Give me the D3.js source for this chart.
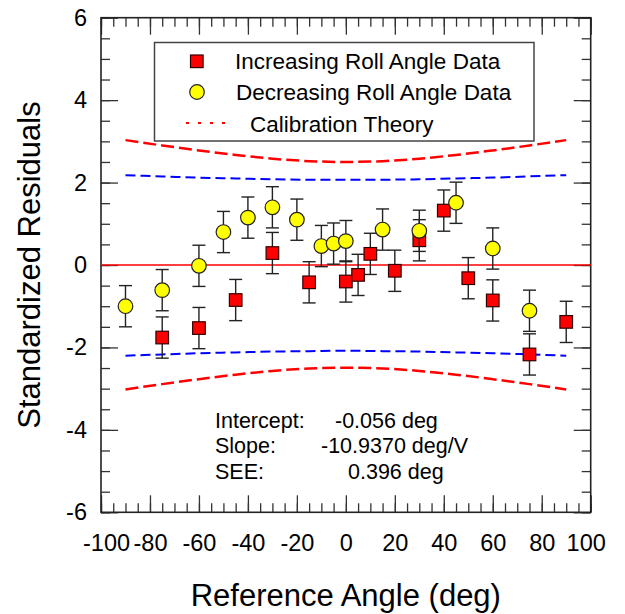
<!DOCTYPE html>
<html>
<head>
<meta charset="utf-8">
<script src="https://cdn.jsdelivr.net/npm/d3@7"></script>
<style>
  body { margin: 0; background: #fff; }
  text { font-family: "Liberation Sans", Arial, sans-serif; fill: #000; }
</style>
</head>
<body>
<div id="chart"></div>
<script>
// Data
var incAngle = [-75, -60, -45, -30, -15, 0, 5, 10, 20, 30, 40, 50, 60, 75, 90];
var incResid = [-1.76, -1.53, -0.85, 0.29, -0.42, -0.40, -0.24, 0.27, -0.14, 0.60, 1.32, -0.32, -0.86, -2.17, -1.38];
var incErr   = [0.5, 0.5, 0.5, 0.5, 0.5, 0.5, 0.5, 0.5, 0.5, 0.5, 0.5, 0.5, 0.5, 0.5, 0.5];

var decAngle = [-90, -75, -60, -50, -40, -30, -20, -10, -5, 0, 15, 30, 45, 60, 75];
var decResid = [-1.00, -0.61, -0.02, 0.80, 1.15, 1.40, 1.10, 0.46, 0.52, 0.58, 0.86, 0.83, 1.51, 0.40, -1.11];
var decErr   = [0.5, 0.5, 0.5, 0.5, 0.5, 0.5, 0.5, 0.5, 0.5, 0.5, 0.5, 0.5, 0.5, 0.5, 0.5];

// calibration theory bands
var bandAngle = [-90, -75, -60, -45, -30, -15, 0, 15, 30, 45, 60, 75, 90];
var redUpper  = [3.03, 2.90, 2.78, 2.67, 2.58, 2.52, 2.50, 2.52, 2.58, 2.67, 2.78, 2.90, 3.03];
var redLower  = [-3.02, -2.89, -2.77, -2.66, -2.57, -2.51, -2.49, -2.51, -2.57, -2.66, -2.77, -2.89, -3.02];
var blueUpper = [2.18, 2.15, 2.12, 2.10, 2.08, 2.07, 2.07, 2.07, 2.08, 2.10, 2.12, 2.15, 2.18];
var blueLower = [-2.20, -2.17, -2.14, -2.12, -2.10, -2.09, -2.08, -2.09, -2.10, -2.12, -2.14, -2.17, -2.20];

var xTicks = [-100, -80, -60, -40, -20, 0, 20, 40, 60, 80, 100];
var yTicks = [-6, -4, -2, 0, 2, 4, 6];

var statLabels = ["Intercept:", "Slope:", "SEE:"];
var statValues = ["-0.056 deg", "-10.9370 deg/V", "0.396 deg"];

// dimensions
var margin = {top: 17.7, right: 34.3, bottom: 101.7, left: 101},
    width = 625 - margin.left - margin.right,
    height = 614 - margin.top - margin.bottom;

var svg = d3.select("#chart").append("svg")
    .attr("width", 625)
    .attr("height", 614)
  .append("g")
    .attr("transform", "translate(" + margin.left + "," + margin.top + ")");

var x = d3.scaleLinear().domain([-100, 100]).range([0, width]);
var y = d3.scaleLinear().domain([-6, 6]).range([height, 0]);

// plain hyphen for negatives, like the original
var fmt = function(d) { return String(d); };

var minorX = d3.range(-100, 101, 5);
var minorY = d3.range(-6, 6.01, 0.5);

// minor ticks all around
svg.append("g").attr("transform", "translate(0," + height + ")")
    .call(d3.axisBottom(x).tickValues(minorX).tickSize(-9).tickFormat(""));
svg.append("g")
    .call(d3.axisTop(x).tickValues(minorX).tickSize(-9).tickFormat(""));
svg.append("g")
    .call(d3.axisLeft(y).tickValues(minorY).tickSize(-9).tickFormat(""));
svg.append("g").attr("transform", "translate(" + width + ",0)")
    .call(d3.axisRight(y).tickValues(minorY).tickSize(-9).tickFormat(""));

// major ticks + labels
var xAxis = svg.append("g").attr("class", "x axis")
    .attr("transform", "translate(0," + height + ")")
    .call(d3.axisBottom(x).tickValues(xTicks).tickSize(-17).tickPadding(22).tickFormat(fmt));
svg.append("g")
    .call(d3.axisTop(x).tickValues(xTicks).tickSize(-17).tickFormat(""));
var yAxis = svg.append("g").attr("class", "y axis")
    .call(d3.axisLeft(y).tickValues(yTicks).tickSize(-17).tickPadding(14).tickFormat(fmt));
svg.append("g").attr("transform", "translate(" + width + ",0)")
    .call(d3.axisRight(y).tickValues(yTicks).tickSize(-17).tickFormat(""));

svg.selectAll(".domain").remove();
svg.selectAll(".tick line").attr("stroke", "#333").attr("stroke-width", 1.3);
svg.selectAll(".axis text").style("font-size", "23.5px").style("font-family", "Liberation Sans, Arial, sans-serif");

// end labels sit a little inside the frame in the original
xAxis.selectAll(".tick text")
    .attr("dx", function(d) { return d === 100 ? -5 : (d === -100 ? 5 : 0); });

// frame
svg.append("rect")
    .attr("width", width).attr("height", height)
    .attr("fill", "none").attr("stroke", "#222").attr("stroke-width", 1.6);

// zero line
svg.append("line")
    .attr("x1", 0).attr("x2", width)
    .attr("y1", y(0)).attr("y2", y(0))
    .attr("stroke", "#ff0000").attr("stroke-width", 1.5);

// theory curves
function band(vals) {
  return d3.line()
    .x(function(d, i) { return x(bandAngle[i]); })
    .y(function(d) { return y(d); })
    .curve(d3.curveMonotoneX)(vals);
}
[redUpper, redLower].forEach(function(v) {
  svg.append("path").attr("d", band(v))
    .attr("fill", "none").attr("stroke", "#ff0000")
    .attr("stroke-width", 2.5).attr("stroke-dasharray", "13,5");
});
[blueUpper, blueLower].forEach(function(v) {
  svg.append("path").attr("d", band(v))
    .attr("fill", "none").attr("stroke", "#0000ff")
    .attr("stroke-width", 2).attr("stroke-dasharray", "10,5");
});

// error bars
function errorBars(angles, vals, errs) {
  var g = svg.append("g").attr("stroke", "#222").attr("stroke-width", 1.4);
  angles.forEach(function(a, i) {
    var cx = x(a), lo = y(vals[i] - errs[i]), hi = y(vals[i] + errs[i]);
    g.append("line").attr("x1", cx).attr("x2", cx).attr("y1", lo).attr("y2", hi);
    g.append("line").attr("x1", cx - 6.5).attr("x2", cx + 6.5).attr("y1", lo).attr("y2", lo);
    g.append("line").attr("x1", cx - 6.5).attr("x2", cx + 6.5).attr("y1", hi).attr("y2", hi);
  });
}

errorBars(incAngle, incResid, incErr);
svg.append("g").selectAll("rect")
    .data(incAngle)
  .enter().append("rect")
    .attr("x", function(d) { return x(d) - 6.3; })
    .attr("y", function(d, i) { return y(incResid[i]) - 6.3; })
    .attr("width", 12.6).attr("height", 12.6)
    .attr("fill", "#ff0000").attr("stroke", "#300").attr("stroke-width", 1.2);

errorBars(decAngle, decResid, decErr);
svg.append("g").selectAll("circle")
    .data(decAngle)
  .enter().append("circle")
    .attr("cx", function(d) { return x(d); })
    .attr("cy", function(d, i) { return y(decResid[i]); })
    .attr("r", 7.3)
    .attr("fill", "#ffff00").attr("stroke", "#222").attr("stroke-width", 1.2);

// legend (page coordinates)
var root = d3.select("#chart svg");
var legend = root.append("g");
legend.append("rect")
    .attr("x", 154.5).attr("y", 42.5).attr("width", 379.5).attr("height", 98.5)
    .attr("fill", "#fff").attr("stroke", "#444").attr("stroke-width", 1.5);
legend.append("rect")
    .attr("x", 190.5).attr("y", 55).attr("width", 12.6).attr("height", 12.6)
    .attr("fill", "#ff0000").attr("stroke", "#300").attr("stroke-width", 1.2);
legend.append("circle")
    .attr("cx", 197).attr("cy", 92).attr("r", 7.3)
    .attr("fill", "#ffff00").attr("stroke", "#222").attr("stroke-width", 1.2);
legend.append("line")
    .attr("x1", 186).attr("x2", 232).attr("y1", 123).attr("y2", 123)
    .attr("stroke", "#ff0000").attr("stroke-width", 2).attr("stroke-dasharray", "3,9");
var legendText = ["Increasing Roll Angle Data", "Decreasing Roll Angle Data", "Calibration Theory"];
var legendX = [235, 236, 250];
var legendY = [69, 100, 131.5];
legendText.forEach(function(t, i) {
  legend.append("text").attr("x", legendX[i]).attr("y", legendY[i])
    .style("font-size", "22.5px").text(t);
});

// stats annotation
var statX = [335, 321, 348];
statLabels.forEach(function(t, i) {
  root.append("text").attr("x", 215).attr("y", 428 + i * 25.3)
    .style("font-size", "21.5px").text(t);
  root.append("text").attr("x", statX[i]).attr("y", 428 + i * 25.3)
    .style("font-size", "21.5px").text(statValues[i]);
});

// axis titles
root.append("text")
    .attr("x", margin.left + width / 2).attr("y", 606)
    .attr("text-anchor", "middle")
    .style("font-size", "31px")
    .text("Reference Angle (deg)");
root.append("text")
    .attr("transform", "translate(40," + (margin.top + height / 2) + ") rotate(-90)")
    .attr("text-anchor", "middle")
    .style("font-size", "31px")
    .text("Standardized Residuals");
</script>
</body>
</html>
